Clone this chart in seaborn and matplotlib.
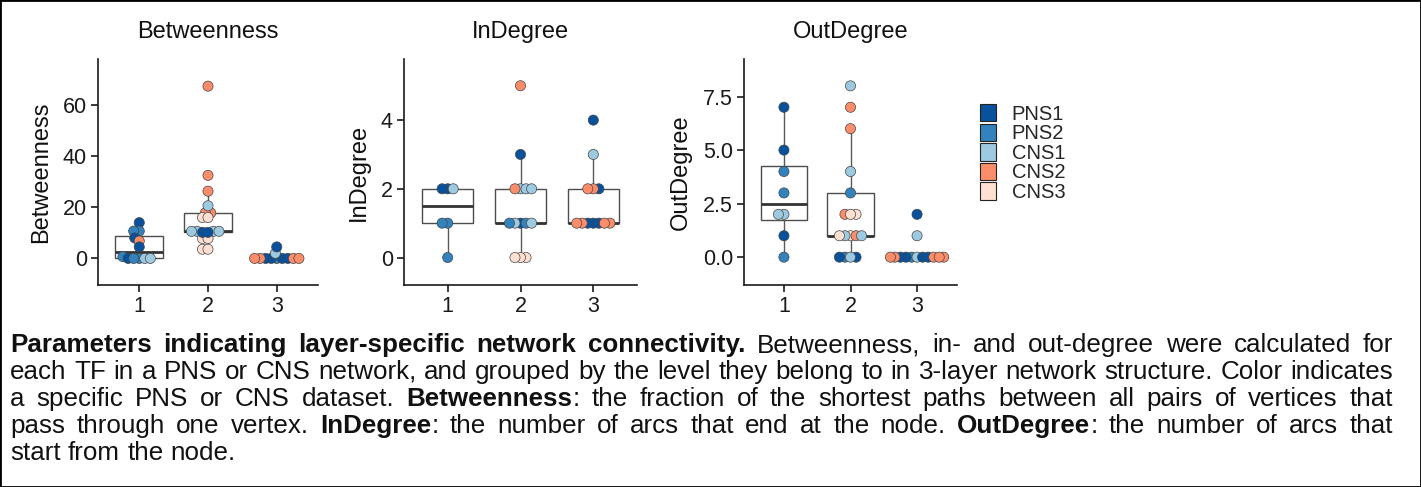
import numpy as np
import pandas as pd
import matplotlib
matplotlib.use("Agg")
import matplotlib.pyplot as plt
from matplotlib.patches import Patch, Rectangle
import seaborn as sns

# ---------------- data ----------------
datasets = ["PNS1", "PNS2", "CNS1", "CNS2", "CNS3"]
dataset_colors = ["#08519C", "#3182BD", "#9ECAE1", "#FC8D6A", "#FEE0D2"]
levels = ["1", "2", "3"]
metrics = ["Betweenness", "InDegree", "OutDegree"]

betw_level = ["1"] * 12 + ["2"] * 18 + ["3"] * 11
betw_value = [14.0, 10.7, 10.7, 8.0, 6.8, 4.5, 0.7, 0, 0, 0, 0, 0,
              67.4, 32.5, 26.3, 17.8, 17.8, 20.6, 10.6, 10.6, 10.6, 10.6,
              16.0, 16.0, 7.8, 7.8, 3.6, 3.6, 10.2, 10.2,
              0, 0, 0, 0, 0, 0, 0, 0, 0, 2.0, 4.5]
betw_dataset = ["PNS1", "PNS2", "PNS2", "PNS1", "CNS2", "PNS1", "PNS2",
                "PNS2", "PNS1", "CNS1", "PNS2", "CNS1",
                "CNS2", "CNS2", "CNS2", "CNS2", "CNS2", "CNS1", "CNS1", "CNS1", "CNS1", "CNS1",
                "CNS3", "CNS3", "CNS3", "CNS3", "CNS3", "CNS3", "PNS1", "PNS1",
                "PNS2", "PNS1", "PNS1", "PNS1", "PNS1", "CNS2", "CNS2", "CNS2", "CNS2",
                "CNS1", "PNS1"]

indeg_level = ["1"] * 6 + ["2"] * 14 + ["3"] * 12
indeg_value = [2, 2, 2, 1, 1, 0,
               5, 3, 2, 2, 2, 2, 1, 1, 1, 1, 1, 0, 0, 0,
               4, 3, 2, 2, 2, 1, 1, 1, 1, 1, 1, 1]
indeg_dataset = ["PNS1", "CNS1", "PNS1", "PNS2", "PNS2", "PNS2",
                 "CNS2", "PNS1", "CNS1", "CNS2", "CNS1", "CNS1",
                 "PNS1", "PNS2", "CNS1", "CNS1", "PNS2", "CNS3", "CNS3", "CNS3",
                 "PNS1", "CNS1", "PNS1", "CNS2", "CNS2",
                 "PNS1", "PNS1", "PNS1", "CNS2", "CNS2", "CNS2", "CNS2"]

outdeg_level = ["1"] * 8 + ["2"] * 17 + ["3"] * 13
outdeg_value = [7, 5, 4, 3, 2, 2, 1, 0,
                8, 7, 6, 4, 3, 2, 2, 2, 1, 1, 1, 1, 1, 0, 0, 0, 0,
                2, 1, 0, 0, 0, 0, 0, 0, 0, 0, 0, 0, 0]
outdeg_dataset = ["PNS1", "PNS1", "PNS2", "PNS2", "CNS1", "CNS1", "PNS1", "PNS2",
                  "CNS1", "CNS2", "CNS2", "CNS1", "PNS2", "CNS3", "CNS2", "CNS3",
                  "CNS3", "CNS1", "CNS2", "CNS1", "CNS3", "PNS2", "PNS1", "CNS1", "PNS1",
                  "PNS1", "CNS1", "PNS2", "CNS1", "PNS1", "PNS1", "PNS1", "PNS1",
                  "CNS2", "CNS2", "CNS2", "CNS2", "CNS2"]

y_ticks = {"Betweenness": [0, 20, 40, 60],
           "InDegree": [0, 2, 4],
           "OutDegree": [0, 2.5, 5, 7.5]}
y_ticklabels = {"Betweenness": ["0", "20", "40", "60"],
                "InDegree": ["0", "2", "4"],
                "OutDegree": ["0.0", "2.5", "5.0", "7.5"]}
y_limits = {"Betweenness": (-10.4, 77.9),
            "InDegree": (-0.80, 5.77),
            "OutDegree": (-1.30, 9.24)}

caption_lines = [
    "*Parameters indicating layer-specific network connectivity.* Betweenness, in- and out-degree were calculated for",
    "each TF in a PNS or CNS network, and grouped by the level they belong to in 3-layer network structure. Color indicates",
    "a specific PNS or CNS dataset. *Betweenness*: the fraction of the shortest paths between all pairs of vertices that",
    "pass through one vertex. *InDegree*: the number of arcs that end at the node. *OutDegree*: the number of arcs that",
    "start from the node.",
]

frames = {
    "Betweenness": pd.DataFrame({"level": betw_level, "value": betw_value, "dataset": betw_dataset}),
    "InDegree": pd.DataFrame({"level": indeg_level, "value": indeg_value, "dataset": indeg_dataset}),
    "OutDegree": pd.DataFrame({"level": outdeg_level, "value": outdeg_value, "dataset": outdeg_dataset}),
}
palette = dict(zip(datasets, dataset_colors))

# ---------------- style ----------------
sns.set_theme(style="ticks")
plt.rcParams["font.family"] = ["Liberation Sans", "DejaVu Sans"]

W, H = 1421, 487
fig = plt.figure(figsize=(W / 100, H / 100), dpi=100)
fig.patch.set_facecolor("white")


def rect(x0, x1, y0, y1):
    return [x0 / W, 1 - y1 / H, (x1 - x0) / W, (y1 - y0) / H]


panel_px = {"Betweenness": (98, 318), "InDegree": (404, 637), "OutDegree": (744, 957)}
axes = {}
for m in metrics:
    x0, x1 = panel_px[m]
    ax = fig.add_axes(rect(x0, x1, 59.3, 285))
    axes[m] = ax
    df = frames[m]
    sns.boxplot(data=df, x="level", y="value", order=levels, color="white",
                linecolor="#4d4d4d", linewidth=1.0, width=0.7, showfliers=False,
                showcaps=False, medianprops={"color": "#333333", "linewidth": 2.0},
                whiskerprops={"color": "#5a5a5a", "linewidth": 1.0}, ax=ax)
    sns.swarmplot(data=df, x="level", y="value", order=levels, hue="dataset",
                  hue_order=datasets, palette=palette, size=3.3,
                  edgecolor="#444444", linewidth=0.5, legend=False, ax=ax)
    ax.set_xlim(-0.6, 2.6)
    ax.set_ylim(*y_limits[m])
    ax.set_yticks(y_ticks[m])
    ax.set_yticklabels(y_ticklabels[m])
    ax.set_xlabel("")
    ax.set_ylabel(m, fontsize=17, color="#111111", labelpad=8)
    ax.set_title(m, fontsize=17, color="#111111", pad=15)
    sns.despine(ax=ax)
    for s in ("left", "bottom"):
        ax.spines[s].set_linewidth(1.2)
        ax.spines[s].set_color("#1a1a1a")
    ax.tick_params(axis="both", length=5, width=1.2, color="#1a1a1a",
                   labelsize=15.5, labelcolor="#1a1a1a", pad=3)
    ax.set_facecolor("white")

# compute swarm positions with small markers, then enlarge markers (overlapping beeswarm)
fig.canvas.draw()
for ax in axes.values():
    for coll in ax.collections:
        if "draw" in coll.__dict__:
            del coll.draw
            coll.set_sizes([7.3 ** 2])
            coll.set_zorder(3)

# legend
handles = [Patch(facecolor=palette[d], edgecolor="#222222", linewidth=0.8) for d in datasets]
fig.legend(handles, datasets, loc="upper left", bbox_to_anchor=(980 / W, 1 - 104 / H),
           frameon=False, fontsize=14.5, handlelength=0.78, handleheight=0.95,
           handletextpad=0.8, labelspacing=0.0, borderpad=0, borderaxespad=0)

# ---------------- caption (justified) ----------------
renderer = fig.canvas.get_renderer()


def parse(line):
    words, bold = [], False
    for w in line.split(" "):
        segs, cur = [], ""
        for ch in w:
            if ch == "*":
                if cur:
                    segs.append((cur, bold))
                    cur = ""
                bold = not bold
            else:
                cur += ch
        if cur:
            segs.append((cur, bold))
        words.append(segs)
    return words


def text_width(s, bold, fs):
    t = fig.text(0, 0, s, fontsize=fs, fontweight="bold" if bold else "normal")
    w = t.get_window_extent(renderer).width
    t.remove()
    return w


def word_width(segs, fs):
    return sum(text_width(s, b, fs) for s, b in segs)


parsed = [parse(l) for l in caption_lines]
x_left, x_right = 10, 1393
fs0 = 16.0
sp0 = text_width("x x", False, fs0) - text_width("xx", False, fs0)
nat = [sum(word_width(w, fs0) for w in ws) + sp0 * (len(ws) - 1) for ws in parsed]
fs = fs0 * (x_right - x_left) / max(nat) * 0.995
sp = text_width("x x", False, fs) - text_width("xx", False, fs)

base_y = 352
for i, ws in enumerate(parsed):
    widths = [word_width(w, fs) for w in ws]
    if i < len(parsed) - 1:
        gap = (x_right - x_left - sum(widths)) / (len(ws) - 1)
    else:
        gap = sp
    x = x_left
    y = base_y + 27 * i
    for segs, wdt in zip(ws, widths):
        xx = x
        for s, b in segs:
            fig.text(xx / W, 1 - y / H, s, fontsize=fs, color="#111111",
                     fontweight="bold" if b else "normal", va="baseline", ha="left")
            xx += text_width(s, b, fs)
        x += wdt + gap

fig.add_artist(Rectangle((0, 0), 1, 1, transform=fig.transFigure, fill=False,
                         edgecolor="black", linewidth=2))

fig.savefig("out.png", dpi=100, facecolor="white")
